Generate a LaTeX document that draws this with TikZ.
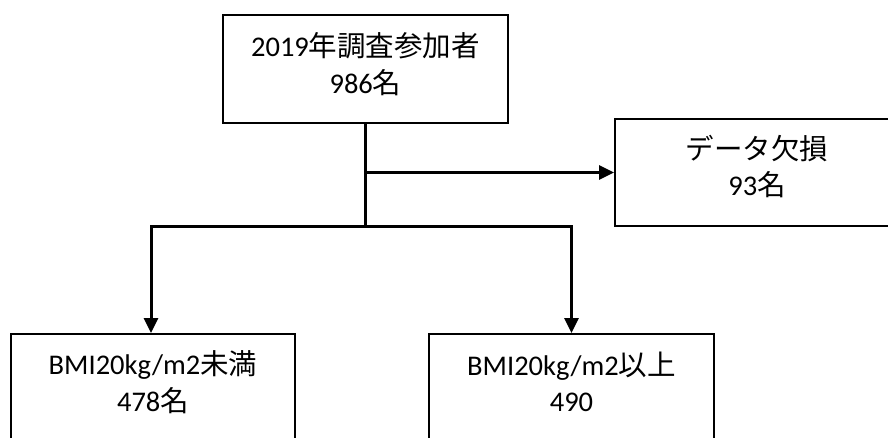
\documentclass[tikz,border=0pt]{standalone}
\usepackage{fontspec}
\setmainfont{Carlito}
\newfontfamily\cjk{Noto Sans CJK JP}
\usetikzlibrary{arrows.meta}
\tikzset{
  box/.style={draw=black, line width=2pt, rectangle, inner sep=0pt},
  lbl/.style={align=center, inner sep=0pt, font=\fontsize{28.5}{36.5}\selectfont},
  conn/.style={draw=black, line width=3pt},
  arr/.style={-{Triangle[length=15pt,width=14pt]}}
}
\begin{document}
\begin{tikzpicture}[x=1pt,y=-1pt]
\useasboundingbox (0,0) rectangle (888,438);
\node[box, minimum width=285pt, minimum height=108pt] (top) at (365.5,69) {};
\node[box, minimum width=284pt, minimum height=107pt] (miss) at (757,172.5) {};
\node[box, minimum width=284pt, minimum height=108pt] (low) at (153,388) {};
\node[box, minimum width=285pt, minimum height=108pt] (high) at (571.5,388) {};
\node[lbl] (toptxt) at ([yshift=5pt]top.center) {2019{\cjk 年調査参加者}\\986{\cjk 名}};
\node[lbl] (misstxt) at ([yshift=6pt]miss.center) {{\cjk データ欠損}\\93{\cjk 名}};
\node[lbl] (lowtxt) at ([yshift=6pt]low.center) {BMI20kg/m2{\cjk 未満}\\478{\cjk 名}};
\node[lbl] (hightxt) at ([yshift=6pt]high.center) {BMI20kg/m2{\cjk 以上}\\490};
\coordinate (j) at (365.5,227);
\coordinate (jl) at (151,227);
\draw[conn] (top.south) -- (j);
\draw[conn,arr] (top.south |- miss.west) -- (miss.west);
\draw[conn,arr] (j) -- (jl) -- (jl |- low.north);
\draw[conn,arr] (j) -| (high.north);
\end{tikzpicture}
\end{document}
